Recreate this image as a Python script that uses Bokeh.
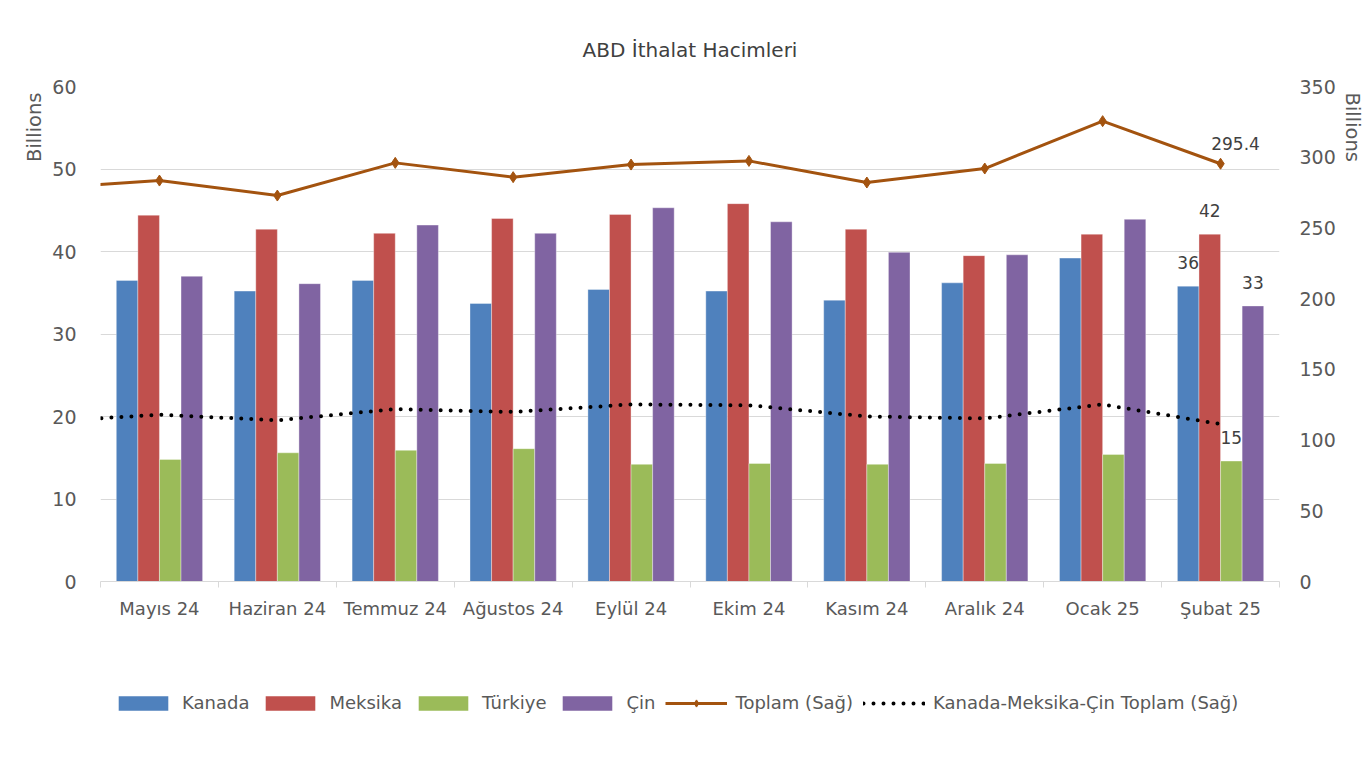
import numpy as np
from bokeh.plotting import figure
from bokeh.layouts import column
from bokeh.models import (Range1d, LinearAxis, FixedTicker, Legend, LegendItem,
                          Title, ColumnDataSource)
from bokeh.embed import file_html
from bokeh.resources import INLINE
from bokeh.core.properties import value

# ---------------- data ----------------
months = ["Mayıs 24", "Haziran 24", "Temmuz 24", "Ağustos 24", "Eylül 24",
          "Ekim 24", "Kasım 24", "Aralık 24", "Ocak 25", "Şubat 25"]
kanada = [36.5, 35.2, 36.5, 33.7, 35.4, 35.2, 34.1, 36.2, 39.2, 35.8]
meksika = [44.4, 42.7, 42.2, 44.0, 44.5, 45.8, 42.7, 39.5, 42.1, 42.1]
turkiye = [14.8, 15.6, 15.9, 16.1, 14.2, 14.3, 14.2, 14.3, 15.4, 14.6]
cin = [37.0, 36.1, 43.2, 42.2, 45.3, 43.6, 39.9, 39.6, 43.9, 33.4]
toplam = [283.5, 272.9, 296.0, 285.9, 294.8, 297.4, 282.1, 292.0, 325.5, 295.4]
# the line series continue from the previous month (clipped at the left edge)
prev_month = "Nisan 24"
prev_toplam = 277.9
prev_kmc = 113.0

left_ticks = [0, 10, 20, 30, 40, 50, 60]
right_ticks = [0, 50, 100, 150, 200, 250, 300, 350]
title_text = "ABD İthalat Hacimleri"
axis_unit = "Billions"
series_names = ["Kanada", "Meksika", "Türkiye", "Çin", "Toplam (Sağ)",
                "Kanada-Meksika-Çin Toplam (Sağ)"]

# ---------------- styling ----------------
FONT = "DejaVu Sans"
C_KAN, C_MEK, C_TUR, C_CIN = "#4F81BD", "#C0504D", "#9BBB59", "#8064A2"
C_TOP = "#A3530F"
GRID = "#d9d9d9"
TXT = "#595959"
LBL = "#404040"

n = len(months)
idx = np.arange(n)
kmc = [k + m + c for k, m, c in zip(kanada, meksika, cin)]
bar_series = [kanada, meksika, turkiye, cin]
bar_cols = [C_KAN, C_MEK, C_TUR, C_CIN]

line_x = [-1] + list(idx)
src_line = ColumnDataSource(dict(x=line_x, top=[prev_toplam] + toplam,
                                 kmc=[prev_kmc] + kmc))

W, H = 1368, 650
p = figure(width=W, height=H, output_backend="svg", toolbar_location=None,
           x_range=Range1d(-0.5, n - 0.5), y_range=Range1d(0, 60),
           min_border_left=100, min_border_right=W - 1283,
           min_border_top=86, min_border_bottom=H - 581)
p.extra_y_ranges = {"right": Range1d(0, 350)}
p.outline_line_color = None
p.background_fill_color = "white"
p.border_fill_color = "white"

p.title.text = title_text
p.title.align = "center"
p.title.text_font = FONT
p.title.text_font_size = "20px"
p.title.text_font_style = "normal"
p.title.text_color = LBL
p.title.standoff = 50

bw = 0.183
offs = [-1.5 * bw, -0.5 * bw, 0.5 * bw, 1.5 * bw]
for vals, col, off in zip(bar_series, bar_cols, offs):
    p.vbar(x=idx + off, top=vals, width=bw, bottom=0, fill_color=col,
           line_color="white", line_width=0.6, line_alpha=0.6)

KMC_STYLE = dict(line_color="black", line_width=4, line_dash="0 10",
                 line_cap="round")
TOP_STYLE = dict(line_color=C_TOP, line_width=3)
MK_STYLE = dict(marker="diamond", size=11, fill_color=C_TOP, line_color=C_TOP)

p.line("x", "kmc", source=src_line, y_range_name="right", **KMC_STYLE)
p.line("x", "top", source=src_line, y_range_name="right", **TOP_STYLE)
p.scatter(idx, toplam, y_range_name="right", **MK_STYLE)

# data labels on the last category
last = n - 1
for vals, off in zip(bar_series, offs):
    p.text(x=[last + off], y=[vals[last]], text=[f"{round(vals[last])}"],
           text_font=value(FONT), text_font_size="17px", text_color=LBL,
           text_align="center", text_baseline="bottom", y_offset=-17)
p.text(x=[last], y=[toplam[last]], text=[f"{toplam[last]:.1f}"],
       y_range_name="right", text_font=value(FONT), text_font_size="17px",
       text_color=LBL, text_align="center", text_baseline="bottom",
       x_offset=15, y_offset=-14)

# axes
xa = p.xaxis[0]
xa.ticker = FixedTicker(ticks=list(idx), minor_ticks=[i - 0.5 for i in range(n + 1)])
xa.major_label_overrides = {int(i): m for i, m in zip(idx, months)}
xa.axis_line_color = GRID
xa.major_tick_line_color = None
xa.major_tick_out = 0
xa.minor_tick_line_color = GRID
xa.minor_tick_out = 6
xa.minor_tick_in = 0
xa.major_label_standoff = 10
xa.major_label_text_font = FONT
xa.major_label_text_font_size = "18px"
xa.major_label_text_color = TXT

ya = p.yaxis[0]
ya.ticker = FixedTicker(ticks=left_ticks)
ya.axis_line_color = None
ya.major_tick_line_color = None
ya.minor_tick_line_color = None
ya.major_tick_out = 0
ya.major_label_standoff = 24
ya.major_label_text_font = FONT
ya.major_label_text_font_size = "19px"
ya.major_label_text_color = TXT

ra = LinearAxis(y_range_name="right", ticker=FixedTicker(ticks=right_ticks))
ra.axis_line_color = None
ra.major_tick_line_color = None
ra.minor_tick_line_color = None
ra.major_tick_out = 0
ra.major_label_standoff = 20
ra.major_label_text_font = FONT
ra.major_label_text_font_size = "19px"
ra.major_label_text_color = TXT
p.add_layout(ra, "right")

p.xgrid.grid_line_color = None
p.ygrid.grid_line_color = GRID
p.ygrid.grid_line_width = 1

# axis unit labels
p.add_layout(Title(text=axis_unit, align="right", text_font=FONT,
                   text_font_size="19.5px", text_font_style="normal",
                   text_color=TXT, standoff=8, offset=6), "left")
p.add_layout(Title(text=axis_unit, align="left", text_font=FONT,
                   text_font_size="19.5px", text_font_style="normal",
                   text_color=TXT, standoff=5, offset=6), "right")

# ---------------- legend strip below the chart ----------------
LH = 104
lg = figure(width=W, height=LH, output_backend="svg", toolbar_location=None,
            x_range=Range1d(-0.5, n - 0.5), y_range=Range1d(0, 60),
            x_axis_location=None, y_axis_location=None, min_border=0)
lg.grid.visible = False
lg.outline_line_color = None
lg.border_fill_color = "white"
# hidden copies of the series: only their legend swatches are shown
leg_bars = [lg.vbar(x=idx + off, top=vals, width=bw, fill_color=c,
                    line_color=None, visible=False)
            for vals, c, off in zip(bar_series, bar_cols, offs)]
l_kmc = lg.line(idx, kmc, visible=False, **KMC_STYLE)
l_top = lg.line(idx, toplam, visible=False, **TOP_STYLE)
l_mk = lg.scatter(idx, toplam, visible=False, **MK_STYLE)

legend = Legend(items=[
    LegendItem(label=series_names[0], renderers=[leg_bars[0]]),
    LegendItem(label=series_names[1], renderers=[leg_bars[1]]),
    LegendItem(label=series_names[2], renderers=[leg_bars[2]]),
    LegendItem(label=series_names[3], renderers=[leg_bars[3]]),
    LegendItem(label=series_names[4], renderers=[l_top, l_mk]),
    LegendItem(label=series_names[5], renderers=[l_kmc]),
], orientation="horizontal", location=(12, LH - 63))
legend.border_line_color = None
legend.background_fill_alpha = 0
legend.inactive_fill_alpha = 0
legend.padding = 0
legend.margin = 0
legend.spacing = 10
legend.glyph_width = 62
legend.glyph_height = 18
legend.label_standoff = 8
legend.label_text_font = FONT
legend.label_text_font_size = "18px"
legend.label_text_color = TXT
lg.add_layout(legend, "center")

layout = column(p, lg, spacing=0)
open("out.html", "w").write(file_html(layout, INLINE))
